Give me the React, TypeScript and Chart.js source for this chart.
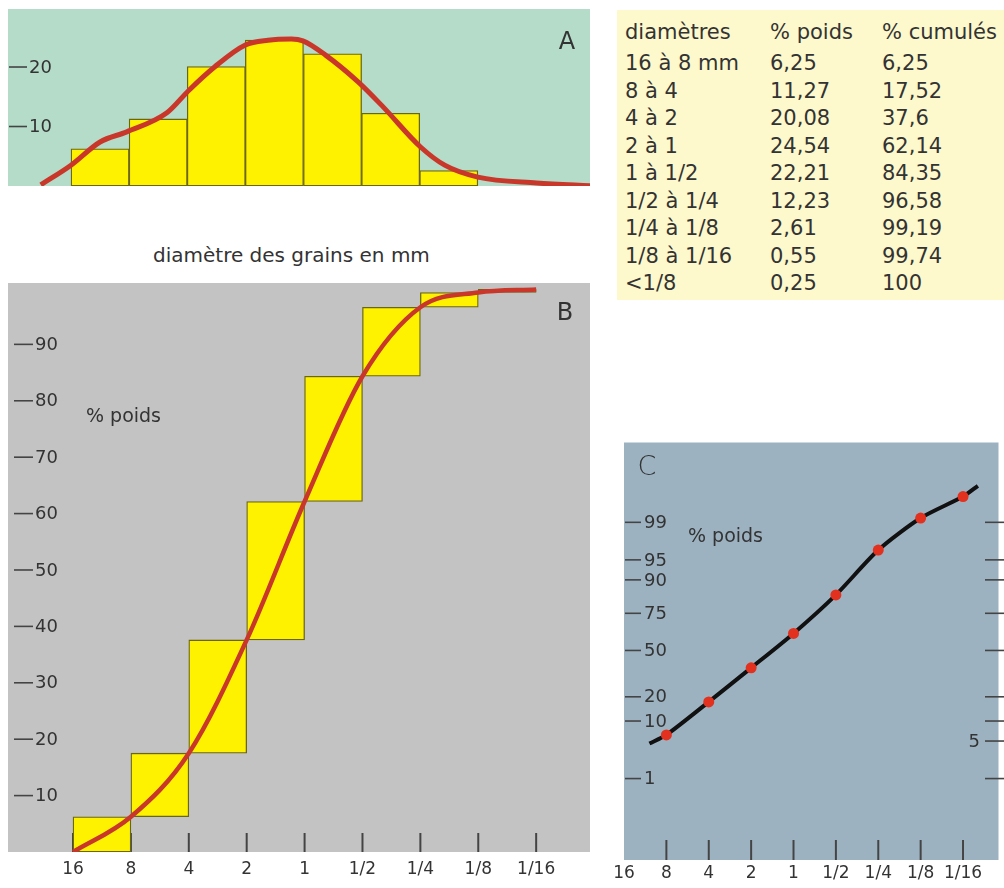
import React, { useEffect, useRef } from 'react';
import { Chart, registerables, LinearScale } from 'chart.js';

// ---------------- data ----------------
const edgeLabels = ['16', '8', '4', '2', '1', '1/2', '1/4', '1/8', '1/16'];
const classLabels = ['16 à 8 mm', '8 à 4', '4 à 2', '2 à 1', '1 à 1/2', '1/2 à 1/4', '1/4 à 1/8', '1/8 à 1/16', '<1/8'];
const poids = [6.25, 11.27, 20.08, 24.54, 22.21, 12.23, 2.61, 0.55, 0.25];
const cumules = [6.25, 17.52, 37.6, 62.14, 84.35, 96.58, 99.19, 99.74, 100];
const tableHeaders = ['diamètres', '% poids', '% cumulés'];
const axisTitle = 'diamètre des grains en mm';

// A: frequency curve (x in class-edge units, y in %)
const curveAX = [-0.52, 0, 0.5, 0.96, 1.65, 2.03, 2.47, 3.0, 3.39, 3.79, 3.99, 4.38, 4.94, 5.37, 6.01, 6.43, 7.0, 8.01, 8.99];
const curveAY = [0.2, 3.5, 7.4, 9.1, 12.3, 16.1, 20.0, 23.7, 24.5, 24.7, 24.4, 22.0, 17.5, 13.3, 6.6, 3.5, 1.5, 0.5, 0];
const ticksA = [10, 20];

// B: cumulative curve
const ticksB = [10, 20, 30, 40, 50, 60, 70, 80, 90];

// C: probability paper
const ticksCLeft = [99, 95, 90, 75, 50, 20, 10, 1];
const ticksCRight = [99, 95, 90, 75, 50, 20, 10, 5, 1];
const labelsCRight = [5];
const lineCX = [0.6, 1, 2, 3, 4, 5, 6, 7, 8, 8.35];
const lineCY = [4.55, 6.25, 17.52, 37.6, 62.14, 84.35, 96.58, 99.19, 99.74, 99.86];

// ---------------- probability (probit) scale ----------------
function probit(p: number): number {
  const a = [-3.969683028665376e1, 2.209460984245205e2, -2.759285104469687e2, 1.38357751867269e2, -3.066479806614716e1, 2.506628277459239];
  const b = [-5.447609879822406e1, 1.615858368580409e2, -1.556989798598866e2, 6.680131188771972e1, -1.328068155288572e1];
  const c = [-7.784894002430293e-3, -3.223964580411365e-1, -2.400758277161838, -2.549732539343734, 4.374664141464968, 2.938163982698783];
  const d = [7.784695709041462e-3, 3.224671290700398e-1, 2.445134137142996, 3.754408661907416];
  const plow = 0.02425;
  if (p <= 0) return -8;
  if (p >= 1) return 8;
  if (p < plow) {
    const q = Math.sqrt(-2 * Math.log(p));
    return (((((c[0] * q + c[1]) * q + c[2]) * q + c[3]) * q + c[4]) * q + c[5]) / ((((d[0] * q + d[1]) * q + d[2]) * q + d[3]) * q + 1);
  }
  if (p > 1 - plow) {
    const q = Math.sqrt(-2 * Math.log(1 - p));
    return -(((((c[0] * q + c[1]) * q + c[2]) * q + c[3]) * q + c[4]) * q + c[5]) / ((((d[0] * q + d[1]) * q + d[2]) * q + d[3]) * q + 1);
  }
  const q = p - 0.5;
  const r = q * q;
  return ((((((a[0] * r + a[1]) * r + a[2]) * r + a[3]) * r + a[4]) * r + a[5]) * q) / (((((b[0] * r + b[1]) * r + b[2]) * r + b[3]) * r + b[4]) * r + 1);
}

class ProbitScale extends (LinearScale as any) {
  static id = 'probit';
  static defaults = {};
  determineDataLimits() {
    (this as any).min = (this as any).options.min;
    (this as any).max = (this as any).options.max;
  }
  buildTicks() {
    return ((this as any).options.tickValues || [50]).map((v: number) => ({ value: v }));
  }
  configure() {
    super.configure();
    (this as any)._zMin = probit((this as any).min / 100);
    (this as any)._zMax = probit((this as any).max / 100);
  }
  getPixelForValue(value: number) {
    const s: any = this;
    const z = probit(value / 100);
    return s.getPixelForDecimal((z - s._zMin) / (s._zMax - s._zMin));
  }
  getValueForPixel(pixel: number) {
    const s: any = this;
    return s.min + (s.max - s.min) * s.getDecimalForPixel(pixel);
  }
}

Chart.register(...registerables, ProbitScale as any);

// ---------------- styling ----------------
const FONT = '"DejaVu Sans", sans-serif';
const TEXT = '#333333';
const TICK = '#444444';
const YELLOW = '#fff200';
const BAR_BORDER = '#6b6612';
const RED = '#c9372a';

function decor(o: any) {
  return {
    id: 'decor',
    beforeDraw(chart: any) {
      const { ctx, chartArea: a } = chart;
      ctx.save();
      ctx.fillStyle = o.bg;
      ctx.fillRect(a.left, a.top, a.right - a.left, a.bottom - a.top);
      ctx.restore();
    },
    beforeDatasetsDraw(chart: any) {
      const { ctx, chartArea: a, scales } = chart;
      const x = scales.x;
      const y = scales.y;
      ctx.save();
      ctx.strokeStyle = TICK;
      ctx.fillStyle = TEXT;
      ctx.textBaseline = 'middle';
      if (o.innerTicks) {
        ctx.lineWidth = 2;
        for (const v of o.innerTicks.values) {
          const px = x.getPixelForValue(v);
          ctx.beginPath();
          ctx.moveTo(px, a.bottom);
          ctx.lineTo(px, a.bottom - o.innerTicks.len);
          ctx.stroke();
        }
      }
      ctx.lineWidth = 1.6;
      ctx.font = o.tickFont;
      ctx.textAlign = 'left';
      for (const v of o.yTicks) {
        const py = y.getPixelForValue(v);
        ctx.beginPath();
        ctx.moveTo(o.dash[0], py);
        ctx.lineTo(o.dash[1], py);
        ctx.stroke();
        ctx.fillText(String(v), o.tickTextX, py + 1);
      }
      if (o.rightTicks) {
        for (const v of o.rightTicks.values) {
          const py = y.getPixelForValue(v);
          ctx.beginPath();
          ctx.moveTo(o.rightTicks.dash[0], py);
          ctx.lineTo(o.rightTicks.dash[1], py);
          ctx.stroke();
          if (o.rightTicks.labeled.includes(v)) {
            ctx.textAlign = 'right';
            ctx.fillText(String(v), o.rightTicks.textX, py + 1);
            ctx.textAlign = 'left';
          }
        }
      }
      if (o.xLabels) {
        ctx.font = o.xFont;
        ctx.textAlign = 'center';
        o.xLabels.forEach((lab: string, i: number) => {
          ctx.fillText(lab, x.getPixelForValue(i), a.bottom + o.xLabelDy);
        });
      }
      for (const t of o.texts) {
        ctx.font = t.font;
        ctx.textAlign = t.align || 'left';
        ctx.fillText(t.text, t.x, t.y);
      }
      ctx.restore();
    },
  };
}

function makeA() {
  return {
    type: 'bar',
    data: {
      datasets: [
        {
          type: 'line',
          data: curveAX.map((x, i) => ({ x, y: curveAY[i] })),
          borderColor: RED,
          borderWidth: 5,
          pointRadius: 0,
          cubicInterpolationMode: 'monotone',
          order: 0,
        },
        {
          type: 'bar',
          data: poids.slice(0, 7).map((v, i) => ({ x: i + 0.5, y: v })),
          backgroundColor: YELLOW,
          borderColor: BAR_BORDER,
          borderWidth: 1.3,
          borderSkipped: false,
          barPercentage: 1,
          categoryPercentage: 1,
          order: 1,
        },
      ],
    },
    options: {
      animation: false,
      responsive: false,
      maintainAspectRatio: false,
      layout: { padding: 0 },
      plugins: { legend: { display: false }, tooltip: { enabled: false } },
      scales: {
        x: { type: 'linear', display: false, offset: false, min: -1.084, max: 8.93, ticks: { stepSize: 1, includeBounds: false } },
        y: { type: 'linear', display: false, min: 0, max: 29.75 },
      },
    },
    plugins: [
      decor({
        bg: '#b4dcc9',
        yTicks: ticksA,
        dash: [1, 19],
        tickTextX: 21,
        tickFont: `18px ${FONT}`,
        texts: [{ text: 'A', x: 559, y: 34, font: `24px ${FONT}`, align: 'center' }],
      }),
    ],
  };
}

function makeB() {
  return {
    type: 'bar',
    data: {
      datasets: [
        {
          type: 'line',
          data: edgeLabels.map((_, i) => ({ x: i, y: i === 0 ? 0 : cumules[i - 1] })),
          borderColor: RED,
          borderWidth: 4.5,
          pointRadius: 0,
          cubicInterpolationMode: 'monotone',
          order: 0,
        },
        {
          type: 'bar',
          data: cumules.slice(0, 8).map((v, i) => ({ x: i + 0.5, y: [i === 0 ? 0 : cumules[i - 1], v] })),
          backgroundColor: YELLOW,
          borderColor: BAR_BORDER,
          borderWidth: 1.3,
          borderSkipped: false,
          barPercentage: 1,
          categoryPercentage: 1,
          order: 1,
        },
      ],
    },
    options: {
      animation: false,
      responsive: false,
      maintainAspectRatio: false,
      layout: { padding: { left: 0, right: 0, top: 0, bottom: 31 } },
      plugins: { legend: { display: false }, tooltip: { enabled: false } },
      scales: {
        x: { type: 'linear', display: false, offset: false, min: -1.123, max: 8.93, ticks: { stepSize: 1, includeBounds: false } },
        y: { type: 'linear', display: false, min: 0, max: 100.88 },
      },
    },
    plugins: [
      decor({
        bg: '#c3c3c3',
        yTicks: ticksB,
        dash: [6, 25],
        tickTextX: 27,
        tickFont: `18px ${FONT}`,
        innerTicks: { values: edgeLabels.map((_, i) => i), len: 19 },
        xLabels: edgeLabels,
        xLabelDy: 18,
        xFont: `17px ${FONT}`,
        texts: [
          { text: 'B', x: 557, y: 31, font: `24px ${FONT}`, align: 'center' },
          { text: '% poids', x: 78, y: 134, font: `19px ${FONT}` },
        ],
      }),
    ],
  };
}

function makeC() {
  return {
    type: 'line',
    data: {
      datasets: [
        {
          data: cumules.slice(0, 8).map((v, i) => ({ x: i + 1, y: v })),
          showLine: false,
          pointRadius: 5.5,
          pointBackgroundColor: '#e2321f',
          pointBorderWidth: 0,
          order: 0,
        },
        {
          data: lineCX.map((x, i) => ({ x, y: lineCY[i] })),
          borderColor: '#111111',
          borderWidth: 4,
          pointRadius: 0,
          tension: 0.25,
          order: 1,
        },
      ],
    },
    options: {
      animation: false,
      responsive: false,
      maintainAspectRatio: false,
      layout: { padding: { left: 20, right: 0, top: 0, bottom: 27 } },
      plugins: { legend: { display: false }, tooltip: { enabled: false } },
      scales: {
        x: { type: 'linear', display: false, offset: false, min: 0, max: 8.837 },
        y: { type: 'probit', display: false, min: 0.00709, max: 99.99203, tickValues: ticksCRight },
      },
    },
    plugins: [
      decor({
        bg: '#9db2c1',
        yTicks: ticksCLeft,
        dash: [21, 37],
        tickTextX: 40,
        tickFont: `18px ${FONT}`,
        rightTicks: { values: ticksCRight, labeled: labelsCRight, dash: [381, 400], textX: 376 },
        innerTicks: { values: [1, 2, 3, 4, 5, 6, 7, 8], len: 20 },
        xLabels: edgeLabels,
        xLabelDy: 14,
        xFont: `17px ${FONT}`,
        texts: [
          { text: 'C', x: 43, y: 31, font: `200 27px ${FONT}`, align: 'center' },
          { text: '% poids', x: 84, y: 100, font: `19px ${FONT}` },
        ],
      }),
    ],
  };
}

function ChartCanvas({ left, top, width, height, make }: any) {
  const ref = useRef<HTMLCanvasElement | null>(null);
  useEffect(() => {
    const chart = new Chart(ref.current as any, make() as any);
    return () => chart.destroy();
  }, []);
  return (
    <canvas
      ref={ref}
      width={width}
      height={height}
      style={{ position: 'absolute', left, top, width, height, display: 'block' }}
    />
  );
}

const fmt = (v: number) => String(v).replace('.', ',');

function DataTable() {
  const colX = [8, 153, 265];
  const rowY = (i: number) => (i === 0 ? 22 : 53 + (i - 1) * 27.5);
  const rows: string[][] = [tableHeaders, ...classLabels.map((c, i) => [c, fmt(poids[i]), fmt(cumules[i])])];
  return (
    <div
      style={{
        position: 'absolute',
        left: 617,
        top: 10,
        width: 387,
        height: 290,
        background: '#fef9cc',
        fontFamily: FONT,
        fontSize: 21,
        color: TEXT,
      }}
    >
      {rows.map((r, i) =>
        r.map((cell, j) => (
          <div
            key={`${i}-${j}`}
            style={{ position: 'absolute', left: colX[j], top: rowY(i) - 13, height: 26, lineHeight: '26px', whiteSpace: 'nowrap' }}
          >
            {cell}
          </div>
        ))
      )}
    </div>
  );
}

export default function App() {
  return (
    <div style={{ position: 'absolute', left: 0, top: 0, width: 1004, height: 886, overflow: 'hidden', background: '#ffffff' }}>
      <ChartCanvas left={8} top={9} width={582} height={177} make={makeA} />
      <DataTable />
      <div
        style={{
          position: 'absolute',
          left: 153,
          top: 243,
          lineHeight: '24px',
          fontFamily: FONT,
          fontSize: 20,
          color: TEXT,
          whiteSpace: 'nowrap',
        }}
      >
        {axisTitle}
      </div>
      <ChartCanvas left={8} top={283} width={582} height={600} make={makeB} />
      <ChartCanvas left={604} top={437} width={400} height={450} make={makeC} />
    </div>
  );
}
